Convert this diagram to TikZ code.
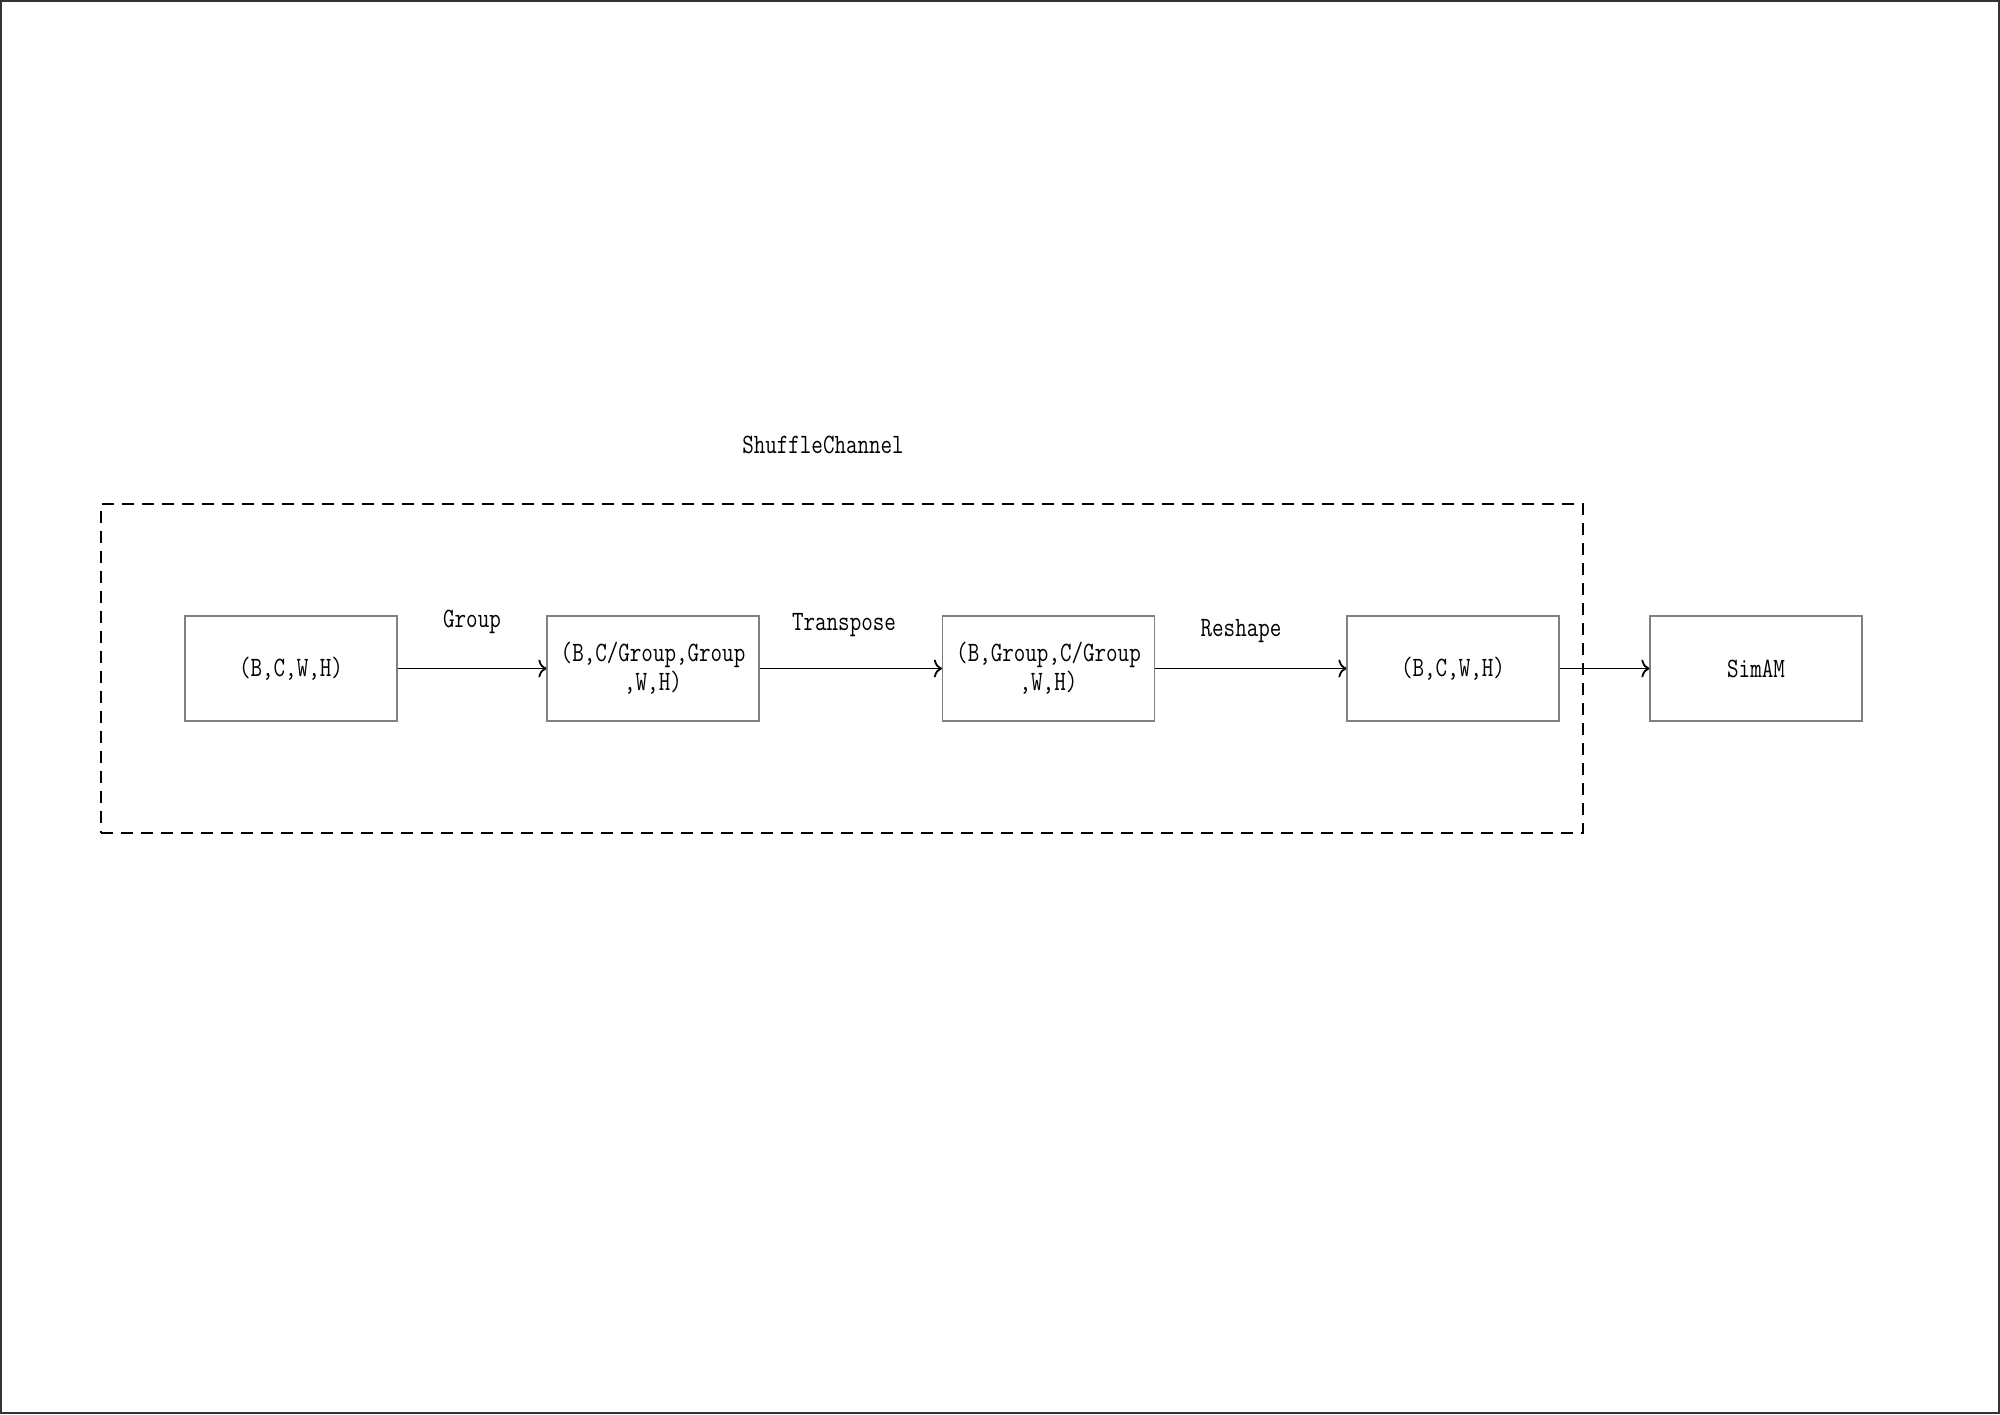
\documentclass[tikz,border=0pt]{standalone}
\usepackage{fontspec}
\usetikzlibrary{arrows.meta}
\setmainfont{Latin Modern Mono}[FakeStretch=0.8]
\begin{document}
\begin{tikzpicture}[x=0.5pt,y=-0.5pt,
  blk/.style={draw=black!50,line width=0.6pt,minimum width=106pt,minimum height=52.5pt,inner sep=0pt,align=center,font=\fontsize{14}{14.5}\selectfont},
  lbl/.style={font=\fontsize{14}{14.5}\selectfont,inner sep=0pt},
  conn/.style={draw=black,line width=0.9pt,-{To[length=4pt,width=9pt]}},
  grp/.style={draw=black,line width=0.9pt,dash pattern=on 6pt off 4pt}]
\useasboundingbox (0,0) rectangle (2000,1414);
\draw[draw=black!80,line width=1pt] (1,1) rectangle (1999,1413);
\node[grp,minimum width=741pt,minimum height=164.5pt,inner sep=0pt] (sc) at (842,668.5) {};
\node[lbl] (sctitle) at (823,445) {ShuffleChannel};
\node[blk] (b1) at (291,668.5) {(B,C,W,H)};
\node[blk] (b2) at (653,668.5) {(B,C/Group,Group\\,W,H)};
\node[blk] (b3) at (1048.5,668.5) {(B,Group,C/Group\\,W,H)};
\node[blk] (b4) at (1453,668.5) {(B,C,W,H)};
\node[blk] (b5) at (1756,668.5) {SimAM};
\draw[conn] (b1) -- (b2);
\draw[conn] (b2) -- (b3);
\draw[conn] (b3) -- (b4);
\draw[conn] (b4) -- (b5);
\node[lbl] (l1) at (472,622) {Group};
\node[lbl] (l2) at (844,625) {Transpose};
\node[lbl] (l3) at (1241,631) {Reshape};
\end{tikzpicture}
\end{document}
